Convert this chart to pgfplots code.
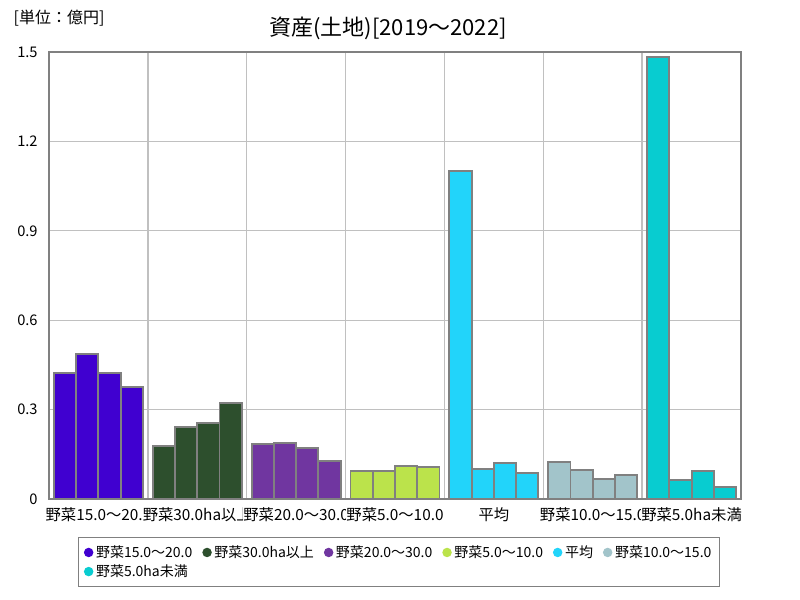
\documentclass[border=0pt]{standalone}
\usepackage{fontspec}
\setmainfont{Noto Sans CJK JP}
\usepackage{pgfplots}
\pgfplotsset{compat=1.18}
\definecolor{gA}{HTML}{4000D0}
\definecolor{gB}{HTML}{2D4F2D}
\definecolor{gC}{HTML}{7036A0}
\definecolor{gD}{HTML}{BBE34B}
\definecolor{gE}{HTML}{22D4FA}
\definecolor{gF}{HTML}{A2C4CA}
\definecolor{gG}{HTML}{08CCD0}
\definecolor{edge}{HTML}{808080}
\definecolor{gridc}{HTML}{C0C0C0}
\pgfplotsset{
  grpbar/.style={ybar, bar width=0.225, bar shift=0pt, draw=edge, line width=1.4pt, fill=#1,
    legend image code/.code={\fill[#1] (0.08cm,0) circle (2.8pt);}},
}
\begin{document}
\begin{tikzpicture}
\useasboundingbox (-36.75pt,-75.75pt) rectangle (563.25pt,374.25pt);
\begin{axis}[
  at={(0,0)}, anchor=south west,
  scale only axis, width=519pt, height=335.25pt,
  xmin=-0.5, xmax=6.5, ymin=0, ymax=1.5,
  ytick={0,0.3,0.6,0.9,1.2,1.5},
  yticklabels={0,0.3,0.6,0.9,1.2,1.5},
  xtick={0,1,2,3,4,5,6},
  xticklabels={野菜15.0～20.0,野菜30.0ha以上,野菜20.0～30.0,野菜5.0～10.0,平均,野菜10.0～15.0,野菜5.0ha未満},
  minor xtick={0.5,1.5,2.5,3.5,4.5,5.5},
  xminorgrids, ymajorgrids,
  grid style={gridc, line width=1pt},
  minor grid style={gridc, line width=1pt},
  major tick length=0pt, minor tick length=0pt,
  axis line style={edge, line width=1.1pt},
  x tick label style={font=\fontsize{11.5}{13}\selectfont, fill=white, inner xsep=0pt, yshift=-3pt},
  y tick label style={font=\fontsize{11}{13}\selectfont, xshift=-5pt},
  legend style={at={(0.042,-0.085)}, anchor=north west, draw=edge, line width=0.9pt,
    font=\fontsize{10.5}{13}\selectfont, legend columns=6,
    /tikz/every even column/.append style={column sep=5.5pt},
    inner xsep=4pt, inner ysep=4pt},
  legend cell align=left,
]
\addplot[grpbar=gA] coordinates {(-0.3375,0.422) (-0.1125,0.487) (0.1125,0.424) (0.3375,0.376)};
\addlegendentry{野菜15.0～20.0}
\addplot[grpbar=gB] coordinates {(0.6625,0.179) (0.8875,0.242) (1.1125,0.255) (1.3375,0.323)};
\addlegendentry{野菜30.0ha以上}
\addplot[grpbar=gC] coordinates {(1.6625,0.186) (1.8875,0.188) (2.1125,0.171) (2.3375,0.128)};
\addlegendentry{野菜20.0～30.0}
\addplot[grpbar=gD] coordinates {(2.6625,0.095) (2.8875,0.095) (3.1125,0.111) (3.3375,0.107)};
\addlegendentry{野菜5.0～10.0}
\addplot[grpbar=gE] coordinates {(3.6625,1.102) (3.8875,0.101) (4.1125,0.122) (4.3375,0.088)};
\addlegendentry{平均}
\addplot[grpbar=gF] coordinates {(4.6625,0.125) (4.8875,0.098) (5.1125,0.068) (5.3375,0.081)};
\addlegendentry{野菜10.0～15.0}
\addplot[grpbar=gG] coordinates {(5.6625,1.484) (5.8875,0.065) (6.1125,0.095) (6.3375,0.040)};
\addlegendentry{野菜5.0ha未満}
\end{axis}
\node[font=\fontsize{16.5}{19}\selectfont] at (254.25pt,353pt) {資産(土地)[2019～2022]};
\node[anchor=west, font=\fontsize{12}{14}\selectfont] at (-30pt,361pt) {[単位：億円]};
\end{tikzpicture}
\end{document}
